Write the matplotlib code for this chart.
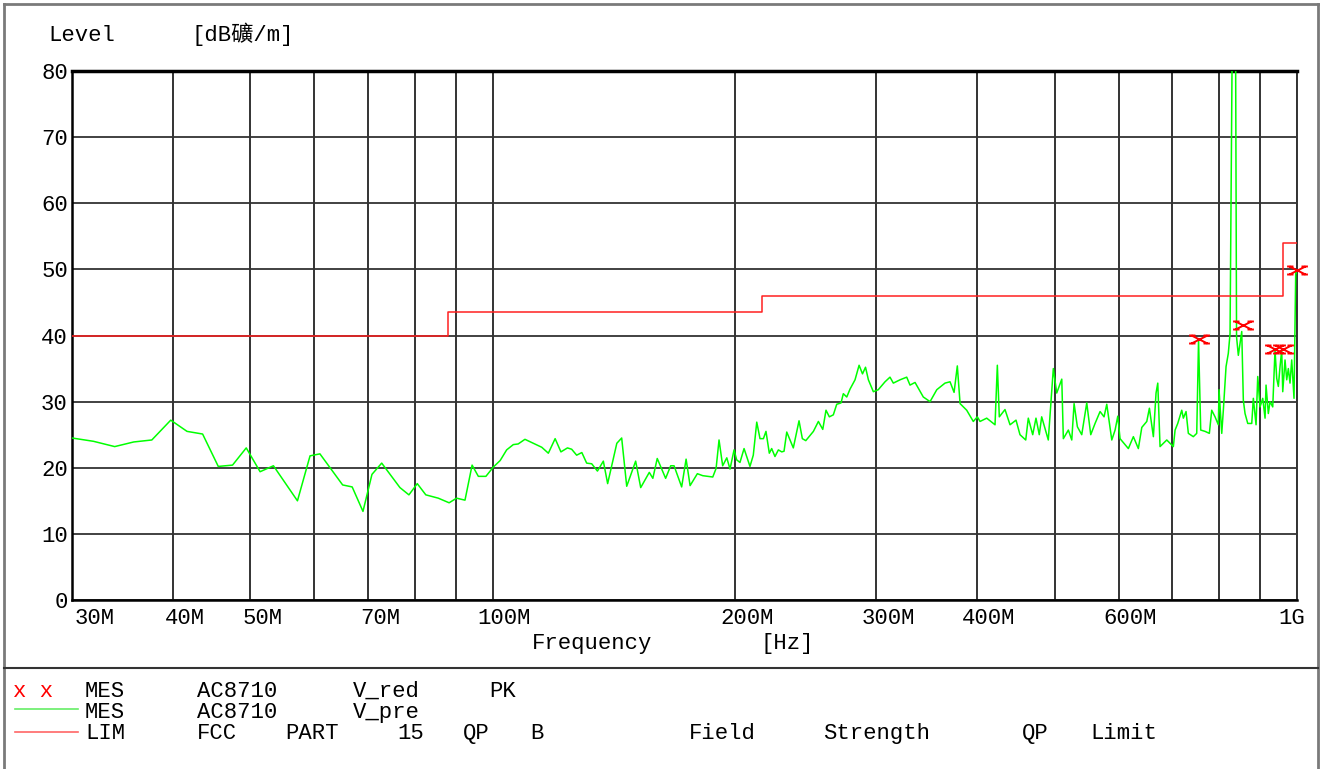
import matplotlib
matplotlib.use('Agg')
import matplotlib.pyplot as plt
from matplotlib.path import Path
from matplotlib.ticker import NullFormatter, FixedLocator, FixedFormatter
from matplotlib.lines import Line2D
import matplotlib.transforms as mtransforms

# ---------------- data ----------------
freq_mhz = [30.0, 31.9, 33.9, 35.8, 37.7, 39.8, 41.7, 43.6, 45.6, 47.5, 49.4, 51.4, 53.4, 57.2, 59.3, 61.0,
            65.1, 66.9, 69.0, 70.8, 72.8, 76.7, 78.7, 80.6, 82.6, 85.6, 88.3, 90.2, 92.4, 94.3, 96.0, 98.1,
            100.2, 102.2, 104.1, 106.1, 107.6, 109.7, 112.4, 115.1, 117.3, 119.6, 121.6, 123.9, 125.4, 127.2,
            129.1, 130.9, 132.8, 135.0, 137.3, 139.0, 142.7, 144.7, 146.8, 150.6, 152.8, 156.6, 158.2, 160.2,
            164.1, 166.5, 168.1, 171.8, 174.0, 176.0, 179.7, 182.5, 187.8, 189.6, 191.2, 193.2, 195.5, 197.3,
            199.6, 201.1, 203.0, 205.4, 208.9, 210.9, 213.0, 215.0, 217.1, 218.7, 220.8, 222.3, 224.4, 226.6,
            228.8, 230.3, 232.1, 236.5, 240.4, 242.7, 245.1, 250.5, 254.1, 257.3, 259.7, 262.2, 265.2, 267.8,
            271.1, 272.9, 275.6, 278.2, 282.2, 285.5, 288.3, 290.8, 293.2, 297.4, 301.6, 307.5, 311.9, 314.9,
            321.0, 327.2, 330.3, 335.1, 343.1, 349.8, 356.6, 365.1, 370.4, 374.7, 378.2, 381.2, 388.5, 395.9,
            400.5, 403.6, 411.4, 421.3, 424.1, 426.5, 433.5, 439.8, 447.4, 452.5, 460.0, 463.4, 469.3, 473.7,
            478.2, 481.5, 490.7, 497.8, 502.7, 510.0, 512.3, 519.7, 524.8, 528.3, 533.3, 540.0, 547.8, 554.1,
            561.0, 569.1, 575.6, 580.1, 588.5, 594.1, 598.7, 602.6, 617.1, 626.0, 635.0, 641.3, 650.5, 655.4,
            662.9, 668.0, 671.3, 675.7, 688.8, 701.9, 705.4, 710.8, 719.0, 722.3, 727.9, 732.7, 743.2, 750.5,
            754.4, 759.1, 768.6, 778.1, 783.4, 790.9, 798.4, 800.0, 806.2, 809.9, 816.2, 821.5, 825.6, 832.0,
            838.2, 841.1, 845.4, 849.5, 853.7, 857.6, 861.8, 868.5, 878.5, 882.5, 889.4, 893.7, 899.6, 906.6,
            912.6, 915.2, 921.2, 925.7, 932.9, 939.0, 943.6, 948.0, 952.6, 957.2, 960.0, 966.3, 971.0, 975.5,
            980.2, 985.0, 991.5, 996.4, 999.0]
level_dbuv = [24.5, 24.0, 23.2, 23.9, 24.2, 27.2, 25.5, 25.1, 20.2, 20.4, 23.0, 19.4, 20.3, 15.0, 21.8, 22.1,
              17.4, 17.1, 13.4, 19.0, 20.7, 17.0, 15.9, 17.6, 15.9, 15.4, 14.7, 15.4, 15.1, 20.4, 18.7, 18.7,
              20.1, 21.1, 22.7, 23.5, 23.6, 24.3, 23.7, 23.1, 22.2, 24.4, 22.4, 23.0, 22.8, 21.9,
              22.3, 20.7, 20.6, 19.5, 21.0, 17.6, 23.7, 24.5, 17.2, 21.0, 17.0, 19.3, 18.4, 21.4,
              18.4, 20.3, 20.3, 17.1, 21.3, 17.3, 19.1, 18.8, 18.6, 19.9, 24.2, 20.3, 21.5, 19.8,
              22.7, 21.2, 20.8, 22.9, 20.2, 21.9, 26.9, 24.4, 24.4, 25.5, 22.2, 22.9, 21.7, 22.7,
              22.4, 22.5, 25.4, 23.0, 27.1, 24.4, 24.1, 25.5, 27.0, 25.8, 28.7, 27.7, 28.0, 29.6,
              29.8, 31.2, 30.7, 31.9, 33.3, 35.5, 34.2, 35.2, 33.3, 31.5, 31.8, 33.0, 33.7, 32.8,
              33.3, 33.7, 32.5, 32.9, 30.7, 30.0, 31.8, 32.8, 33.0, 31.4, 35.4, 29.7, 28.7, 27.0,
              27.7, 27.0, 27.5, 26.5, 35.5, 27.7, 28.8, 26.5, 27.2, 25.0, 24.2, 27.5, 25.0, 27.5,
              25.0, 27.7, 24.2, 35.0, 31.3, 33.4, 24.4, 25.7, 24.2, 29.7, 26.2, 25.0, 29.8, 25.0,
              26.7, 28.5, 27.7, 29.6, 24.2, 25.7, 27.8, 24.4, 22.9, 24.7, 22.9, 26.1, 27.0, 29.0,
              24.7, 31.3, 32.8, 23.2, 24.2, 23.2, 25.7, 26.7, 28.7, 27.5, 28.5, 25.2, 24.7, 25.2,
              39.3, 25.7, 25.5, 25.2, 28.7, 27.7, 26.5, 31.8, 25.2, 28.7, 35.3, 37.3, 40.3, 95.0,
              95.0, 39.8, 37.0, 38.8, 40.6, 30.2, 28.2, 26.7, 26.7, 30.5, 26.5, 33.8, 29.2, 30.5,
              27.5, 32.5, 28.2, 30.0, 29.2, 37.8, 33.5, 32.3, 35.3, 37.8, 31.5, 36.3, 33.3, 35.0,
              32.8, 36.3, 30.5, 49.8, 49.5]

limit_freq = [30, 88, 88, 216, 216, 960, 960, 1000]
limit_level = [40, 40, 43.5, 43.5, 46, 46, 54, 54]

peak_freq = [754.4, 857.0, 939.0, 960.8, 1000.0]
peak_level = [39.5, 41.6, 38.0, 38.0, 49.9]

xtick_vals = [30, 40, 50, 70, 100, 200, 300, 400, 600, 1000]
xtick_labels = ['30M', '40M', '50M', '70M', '100M', '200M', '300M', '400M', '600M', '1G']
grid_minor_freqs = [60, 80, 90, 500, 700, 800, 900]
ytick_vals = [0, 10, 20, 30, 40, 50, 60, 70, 80]
ytick_labels = ['0', '10', '20', '30', '40', '50', '60', '70', '80']

# ---------------- figure ----------------
W, H = 1321, 769
fig = plt.figure(figsize=(W / 100, H / 100), dpi=100)
FONT = ['Liberation Mono', 'DejaVu Sans Mono', 'Noto Sans CJK SC']
FS = 16


def fx(px):
    return px / W


def fy(py):
    return 1 - py / H


ax = fig.add_axes([fx(72), fy(600), (1297 - 72) / W, (600 - 71) / H])
ax.set_xscale('log')
ax.set_xlim(30, 1000)
ax.set_ylim(0, 80)

grid_c = '#333333'
ax.xaxis.set_major_locator(FixedLocator(xtick_vals))
ax.xaxis.set_major_formatter(FixedFormatter(xtick_labels))
ax.xaxis.set_minor_locator(FixedLocator(grid_minor_freqs))
ax.xaxis.set_minor_formatter(NullFormatter())
ax.grid(which='both', axis='x', color=grid_c, lw=1.4)
ax.set_yticks(ytick_vals)
ax.set_yticklabels(ytick_labels)
ax.grid(which='major', axis='y', color=grid_c, lw=1.3)
ax.tick_params(which='both', length=0)
ax.tick_params(axis='x', pad=6)
ax.tick_params(axis='y', pad=3)
for lab in ax.get_xticklabels() + ax.get_yticklabels():
    lab.set_family(FONT)
    lab.set_fontsize(FS)
    lab.set_color('black')

xlabs = ax.get_xticklabels()
for lab, txt in zip(xlabs, xtick_labels):
    if txt == '30M':
        lab.set_ha('left')
        lab.set_transform(lab.get_transform() + mtransforms.ScaledTranslation(3 / 100, 0, fig.dpi_scale_trans))
    elif txt == '1G':
        lab.set_ha('right')
        lab.set_transform(lab.get_transform() + mtransforms.ScaledTranslation(8 / 100, 0, fig.dpi_scale_trans))
    else:
        lab.set_transform(lab.get_transform() + mtransforms.ScaledTranslation(12 / 100, 0, fig.dpi_scale_trans))

for s in ['left', 'bottom']:
    ax.spines[s].set_color('black')
    ax.spines[s].set_linewidth(1.8)
ax.spines['top'].set_color('black')
ax.spines['top'].set_linewidth(2.5)
ax.spines['right'].set_color(grid_c)
ax.spines['right'].set_linewidth(1.4)

# data
ax.plot(freq_mhz, level_dbuv, color='#00ff00', lw=1.1, zorder=3)
ax.plot(limit_freq, limit_level, color='#ff2020', lw=1.1, zorder=4)

xv = [(-1, -0.5), (1, 0.5), (-1, 0.5), (1, -0.5),
      (-1.3, 0.5), (-0.5, 0.5), (0.5, 0.5), (1.3, 0.5),
      (-1.3, -0.5), (-0.5, -0.5), (0.5, -0.5), (1.3, -0.5)]
xc = [Path.MOVETO, Path.LINETO] * 6
xmark = Path(xv, xc)
ax.plot(peak_freq, peak_level, ls='none', marker=xmark, markersize=15,
        markeredgecolor='#ff0000', markerfacecolor='none', markeredgewidth=1.4,
        zorder=5, clip_on=False)

# ---------------- frame ----------------
border_c = '#7a7a7a'
fig.add_artist(Line2D([fx(4), fx(4)], [fy(4), 0], color=border_c, lw=2))
fig.add_artist(Line2D([fx(1318), fx(1318)], [fy(4), 0], color=border_c, lw=2))
fig.add_artist(Line2D([fx(4), fx(1318)], [fy(4), fy(4)], color=border_c, lw=2))
fig.add_artist(Line2D([fx(4), fx(1318)], [fy(668), fy(668)], color='#333333', lw=1.5))

# ---------------- texts ----------------
def t(px, py, s, color='black', ha='left'):
    fig.text(fx(px), fy(py), s, family=FONT, fontsize=FS, color=color, ha=ha, va='baseline')


t(48, 41, 'Level')
t(192, 41, '[dB礦/m]')
t(532, 649, 'Frequency')
t(760, 649, '[Hz]')

# legend
t(13, 697, 'x x', color='#ff0000')
t(85, 697, 'MES'); t(197, 697, 'AC8710'); t(353, 697, 'V_red'); t(489, 697, 'PK')
fig.add_artist(Line2D([fx(15), fx(78)], [fy(709), fy(709)], color='#66ee66', lw=1.2))
t(85, 718, 'MES'); t(197, 718, 'AC8710'); t(353, 718, 'V_pre')
fig.add_artist(Line2D([fx(15), fx(78)], [fy(732), fy(732)], color='#ff6666', lw=1.2))
t(85, 739, 'LIM'); t(197, 739, 'FCC'); t(285, 739, 'PART'); t(397, 739, '15'); t(463, 739, 'QP'); t(530, 739, 'B')
t(689, 739, 'Field'); t(823, 739, 'Strength'); t(1022, 739, 'QP'); t(1090, 739, 'Limit')

fig.savefig('out.png', dpi=100, facecolor='white')
